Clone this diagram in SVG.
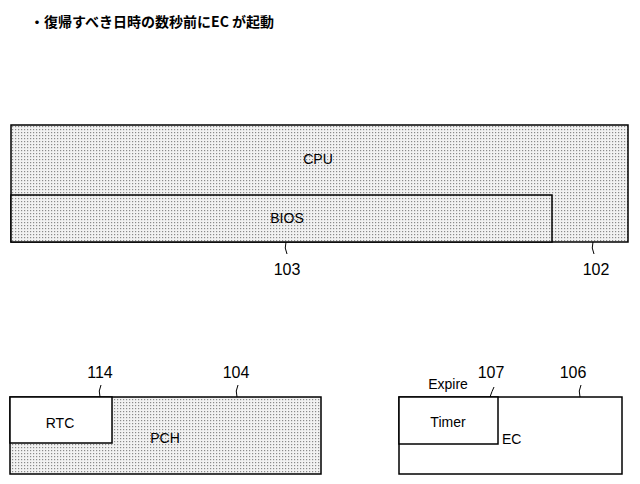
<svg xmlns="http://www.w3.org/2000/svg" width="640" height="484" viewBox="0 0 640 484">
<defs>
<pattern id="dots" width="3" height="3" patternUnits="userSpaceOnUse">
<rect width="3" height="3" fill="#f2f2f2"/>
<rect width="1.2" height="1.2" fill="#8a8a8a"/>
</pattern>
</defs>
<style>
.b{stroke:#000;stroke-width:1.5}
.d{fill:url(#dots)}
.w{fill:#fff}
text{font-family:"Liberation Sans",Arial,sans-serif;font-size:14px;fill:#000}
.n{font-size:16px}
.l{fill:none;stroke:#000;stroke-width:1}
</style>
<rect width="640" height="484" fill="#fff"/>
<text x="30" y="27" style="font-family:'Noto Sans CJK JP',sans-serif;font-size:14px;font-weight:bold">・復帰すべき日時の数秒前にEC が起動</text>
<g id="cpu"><rect class="b d" x="11" y="125" width="617" height="117"/><text x="318" y="164" text-anchor="middle">CPU</text></g>
<g id="bios"><rect class="b d" x="11" y="195" width="541" height="47"/><text x="287" y="223" text-anchor="middle">BIOS</text></g>
<g id="pch"><rect class="b d" x="10" y="397" width="311" height="77"/><text x="165" y="443" text-anchor="middle">PCH</text></g>
<g id="rtc"><rect class="b w" x="10" y="397" width="102" height="46"/><text x="60" y="428" text-anchor="middle">RTC</text></g>
<g id="ec"><rect class="b w" x="399" y="397" width="223" height="77"/><text x="502" y="444">EC</text></g>
<g id="timer"><rect class="b w" x="399" y="397" width="99" height="47"/><text x="448" y="427" text-anchor="middle">Timer</text></g>
<text x="448" y="389" text-anchor="middle">Expire</text>
<g id="connectors">
<path class="l" d="M286 242 q-2 6 1 12"/>
<path class="l" d="M593 242 q-2 6 1 12"/>
<path class="l" d="M100 397 q-2 -6 1 -12"/>
<path class="l" d="M237 397 q-2 -6 1 -12"/>
<path class="l" d="M490 397 q2 -6 4 -10"/>
<path class="l" d="M580 397 q-2 -6 1 -12"/>
</g>
<text class="n" x="287" y="275" text-anchor="middle">103</text>
<text class="n" x="596" y="275" text-anchor="middle">102</text>
<text class="n" x="100" y="378" text-anchor="middle">114</text>
<text class="n" x="236" y="378" text-anchor="middle">104</text>
<text class="n" x="491" y="378" text-anchor="middle">107</text>
<text class="n" x="573" y="378" text-anchor="middle">106</text>
</svg>
